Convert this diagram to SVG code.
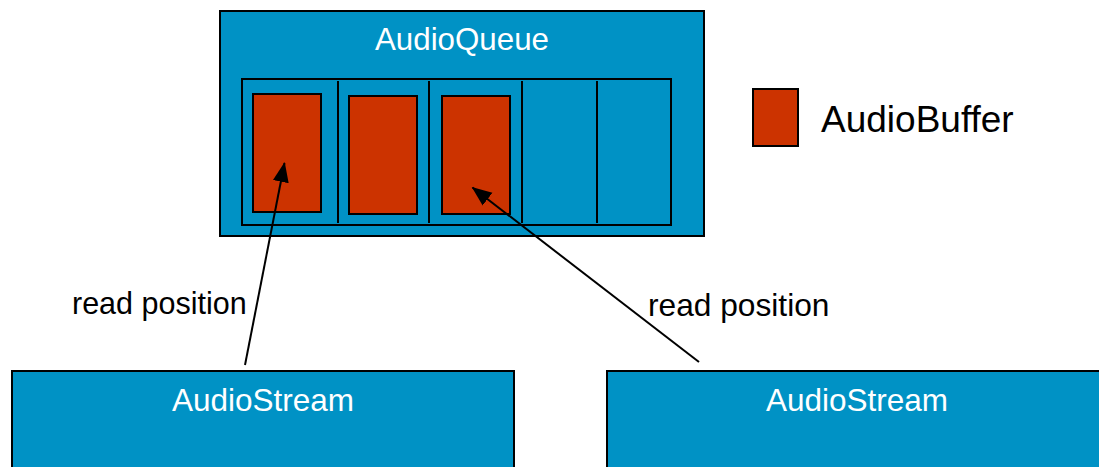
<svg xmlns="http://www.w3.org/2000/svg" width="1099" height="467" viewBox="0 0 1099 467">
<style>
.box{fill:#0092C5;stroke:#000;stroke-width:2}
.buf{fill:#CC3300;stroke:#000;stroke-width:2}
.div{stroke:#000;stroke-width:2;fill:none}
.wt{font-family:"Liberation Sans",Arial,sans-serif;fill:#fff;text-anchor:middle}
.bt{font-family:"Liberation Sans",Arial,sans-serif;fill:#000}
.conn{stroke:#000;stroke-width:2;fill:none;marker-end:url(#ah)}
</style>
<defs>
<marker id="ah" markerUnits="userSpaceOnUse" markerWidth="20" markerHeight="20" viewBox="0 0 20 16" refX="19" refY="8" orient="auto">
<path d="M0,0 L20,8 L0,16 Z" fill="#000"/>
</marker>
</defs>
<rect width="1099" height="467" fill="#fff"/>
<g id="audioqueue">
<rect class="box" x="220" y="11" width="484" height="225"/>
<text class="wt" x="462" y="50" font-size="31.3">AudioQueue</text>
<rect class="box" x="242" y="79" width="429" height="146"/>
<line class="div" x1="338" y1="81" x2="338" y2="223"/>
<line class="div" x1="429" y1="81" x2="429" y2="223"/>
<line class="div" x1="522" y1="81" x2="522" y2="223"/>
<line class="div" x1="597" y1="81" x2="597" y2="223"/>
</g>
<g id="buffer1"><rect class="buf" x="253" y="94" width="68" height="118"/></g>
<g id="buffer2"><rect class="buf" x="349" y="96" width="68" height="118"/></g>
<g id="buffer3"><rect class="buf" x="442" y="96" width="68" height="118"/></g>
<g id="legend">
<rect class="buf" x="753" y="89" width="45" height="57"/>
<text class="bt" x="821" y="132" font-size="37">AudioBuffer</text>
</g>
<g id="stream1">
<rect class="box" x="12" y="371" width="502" height="110"/>
<text class="wt" x="263" y="411" font-size="31.5">AudioStream</text>
</g>
<g id="stream2">
<rect class="box" x="607" y="371" width="510" height="110"/>
<text class="wt" x="857" y="411" font-size="31.5">AudioStream</text>
</g>
<g id="connectors">
<line class="conn" x1="245" y1="365" x2="284.5" y2="163"/>
<line class="conn" x1="699" y1="362" x2="472.5" y2="187.5"/>
<text class="bt" x="72" y="314" font-size="30.5">read position</text>
<text class="bt" x="648" y="316" font-size="31.7">read position</text>
</g>
</svg>
